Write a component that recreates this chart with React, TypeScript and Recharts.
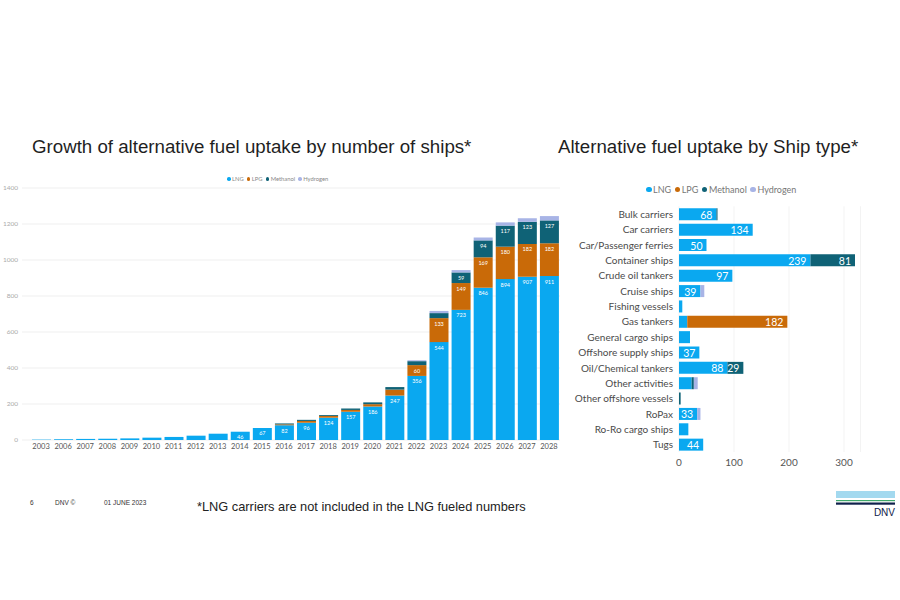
import React from 'react';
import { BarChart, Bar, XAxis, YAxis, CartesianGrid, LabelList } from 'recharts';

// Fleet growth by year (number of ships per fuel)
const years = ['2003', '2006', '2007', '2008', '2009', '2010', '2011', '2012', '2013', '2014', '2015', '2016',
  '2017', '2018', '2019', '2020', '2021', '2022', '2023', '2024', '2025', '2026', '2027', '2028'];
const lngByYear = [2, 4, 6, 7, 9, 13, 17, 24, 35, 46, 67, 82, 96, 124, 157, 186, 247, 356, 544, 723, 846, 894, 907, 911];
const lpgByYear = [0, 0, 0, 0, 0, 0, 0, 0, 0, 0, 0, 5, 10, 10, 10, 13, 33, 60, 133, 149, 169, 180, 182, 182];
const methanolByYear = [0, 0, 0, 0, 0, 0, 0, 0, 0, 0, 0, 5, 6, 5, 8, 10, 14, 22, 28, 59, 94, 117, 123, 127];
const hydrogenByYear = [0, 0, 0, 0, 0, 0, 0, 0, 0, 0, 0, 0, 0, 0, 0, 0, 0, 5, 12, 13, 16, 18, 20, 24];
const yearAxisTicks = [0, 200, 400, 600, 800, 1000, 1200, 1400];

// Uptake by ship type
const shipTypes = ['Bulk carriers', 'Car carriers', 'Car/Passenger ferries', 'Container ships', 'Crude oil tankers',
  'Cruise ships', 'Fishing vessels', 'Gas tankers', 'General cargo ships', 'Offshore supply ships',
  'Oil/Chemical tankers', 'Other activities', 'Other offshore vessels', 'RoPax', 'Ro-Ro cargo ships', 'Tugs'];
const lngByType = [68, 134, 50, 239, 97, 39, 6, 15, 20, 37, 88, 23, 0, 33, 17, 44];
const lpgByType = [0, 0, 0, 0, 0, 0, 0, 182, 0, 0, 0, 0, 0, 0, 0, 0];
const methanolByType = [2, 0, 0, 81, 0, 0, 0, 0, 0, 0, 29, 4, 3, 0, 0, 0];
const hydrogenByType = [0, 0, 0, 0, 0, 7, 0, 0, 0, 0, 0, 7, 0, 6, 0, 0];
const typeAxisTicks = [0, 100, 200, 300];

const fuels = ['LNG', 'LPG', 'Methanol', 'Hydrogen'];
const fuelColors = ['#0aa8f0', '#c96a08', '#0f6276', '#a8b4e6'];

const yearRows = years.map((year, i) => ({
  year,
  LNG: lngByYear[i],
  LPG: lpgByYear[i],
  Methanol: methanolByYear[i],
  Hydrogen: hydrogenByYear[i],
}));

const typeRows = shipTypes.map((type, i) => ({
  type,
  LNG: lngByType[i],
  LPG: lpgByType[i],
  Methanol: methanolByType[i],
  Hydrogen: hydrogenByType[i],
}));

const uiFont = 'Lato, "Noto Sans", sans-serif';
const titleFont = '"Liberation Sans", Arial, sans-serif';

function FuelLegend({ left, top, fontSize, gap, color }: { left: number; top: number; fontSize: number; gap: number; color: string }) {
  return (
    <div style={{ position: 'absolute', left, top, display: 'flex', alignItems: 'center', fontFamily: uiFont, fontSize, lineHeight: 1, color, whiteSpace: 'nowrap' }}>
      {fuels.map((f, i) => (
        <span key={f} style={{ display: 'inline-flex', alignItems: 'center', marginRight: gap }}>
          <span style={{ width: fontSize * 0.62, height: fontSize * 0.62, borderRadius: '50%', background: fuelColors[i], marginRight: 1.5, display: 'inline-block' }} />
          {f}
        </span>
      ))}
    </div>
  );
}

// Value labels near the top of each stacked column segment
const columnLabel = (min: number) => (props: any) => {
  const { x, y, width, value } = props;
  if (value == null || value < min) return null;
  return (
    <text x={x + width / 2} y={y + 5.5} fill="#ffffff" fontSize={5.5} fontFamily={uiFont} textAnchor="middle" dominantBaseline="central">
      {value}
    </text>
  );
};

// Value labels at the right end of each horizontal bar segment
const barLabel = (min: number) => (props: any) => {
  const { x, y, width, height, value } = props;
  if (value == null || value < min) return null;
  return (
    <text x={x + width - 4} y={y + height / 2 + 0.5} fill="#ffffff" fontSize={10.5} fontFamily={uiFont} textAnchor="end" dominantBaseline="central">
      {value}
    </text>
  );
};

// Single-line ship type labels
const TypeTick = (props: any) => {
  const { x, y, payload } = props;
  return (
    <text x={x} y={y} textAnchor="end" dominantBaseline="central" fontSize={10} fontWeight={400} fill="#4a4a4a" fontFamily={uiFont}>
      {payload.value}
    </text>
  );
};

export default function App() {
  return (
    <div style={{ position: 'absolute', left: 0, top: 0, width: 900, height: 600, background: '#ffffff', overflow: 'hidden' }}>
      <div style={{ position: 'absolute', left: 32, top: 137, fontFamily: titleFont, fontSize: 18.7, lineHeight: '20px', color: '#1f1f1f', whiteSpace: 'nowrap' }}>
        Growth of alternative fuel uptake by number of ships*
      </div>
      <div style={{ position: 'absolute', left: 558, top: 137, fontFamily: titleFont, fontSize: 18.7, lineHeight: '20px', color: '#1f1f1f', whiteSpace: 'nowrap' }}>
        Alternative fuel uptake by Ship type*
      </div>

      <FuelLegend left={227} top={176} fontSize={5.8} gap={3} color="#888" />
      <div style={{ position: 'absolute', left: 0, top: 170 }}>
        <BarChart width={565} height={290} data={yearRows} margin={{ top: 18, right: 5, bottom: 0, left: 0 }} barSize={19}>
          <CartesianGrid vertical={false} stroke="#efefef" />
          <XAxis dataKey="year" height={20} padding={{ left: 8, right: 0 }} tickLine={false} axisLine={false} tickSize={0} tickMargin={4}
            interval={0} tick={{ fontSize: 7.5, fill: '#555', fontFamily: uiFont }} />
          <YAxis width={22} domain={[0, 1400]} ticks={yearAxisTicks} tickLine={false} axisLine={false} tickSize={0} tickMargin={4}
            tick={{ fontSize: 6.5, fill: '#aaa', fontFamily: uiFont }} />
          {fuels.map((f, i) => (
            <Bar key={f} dataKey={f} stackId="fuel" fill={fuelColors[i]} isAnimationActive={false}>
              {i < 3 && <LabelList dataKey={f} content={columnLabel(40)} />}
            </Bar>
          ))}
        </BarChart>
      </div>

      <FuelLegend left={646} top={185} fontSize={9} gap={3.5} color="#777" />
      <div style={{ position: 'absolute', left: 560, top: 200 }}>
        <BarChart layout="vertical" width={310} height={272} data={typeRows} margin={{ top: 6.3, right: 9.5, bottom: 0, left: 0 }} barSize={12}>
          <CartesianGrid horizontal={false} stroke="#f3f3f3" />
          <XAxis type="number" domain={[0, 330]} ticks={typeAxisTicks} height={20} tickLine={false} axisLine={false} tickSize={0} tickMargin={7}
            tick={{ fontSize: 10, fill: '#555', fontFamily: uiFont }} />
          <YAxis type="category" dataKey="type" width={119} interval={0} tickLine={false} axisLine={false} tickSize={0} tickMargin={6}
            tick={<TypeTick />} />
          {fuels.map((f, i) => (
            <Bar key={f} dataKey={f} stackId="fuel" fill={fuelColors[i]} isAnimationActive={false}>
              {i === 0 && <LabelList dataKey={f} content={barLabel(30)} />}
              {i === 1 && <LabelList dataKey={f} content={barLabel(30)} />}
              {i === 2 && <LabelList dataKey={f} content={barLabel(10)} />}
            </Bar>
          ))}
        </BarChart>
      </div>

      <div style={{ position: 'absolute', left: 30, top: 499, fontFamily: titleFont, fontSize: 6.5, color: '#333', whiteSpace: 'nowrap' }}>6</div>
      <div style={{ position: 'absolute', left: 55, top: 499, fontFamily: titleFont, fontSize: 6.5, color: '#333', whiteSpace: 'nowrap' }}>DNV ©</div>
      <div style={{ position: 'absolute', left: 104, top: 499, fontFamily: titleFont, fontSize: 6.5, color: '#333', whiteSpace: 'nowrap' }}>01 JUNE 2023</div>
      <div style={{ position: 'absolute', left: 197, top: 499, fontFamily: titleFont, fontSize: 12.8, lineHeight: '16px', color: '#222', whiteSpace: 'nowrap' }}>
        *LNG carriers are not included in the LNG fueled numbers
      </div>

      <svg style={{ position: 'absolute', left: 830, top: 486 }} width={70} height={34}>
        <rect x={6} y={5} width={59} height={7} fill="#a3d9ef" />
        <rect x={6} y={14} width={59} height={1.2} fill="#3ea86a" />
        <rect x={6} y={16.5} width={59} height={2.2} fill="#0f204b" />
        <text x={65} y={30} textAnchor="end" fontFamily={titleFont} fontSize={10} fill="#0f204b">DNV</text>
      </svg>
    </div>
  );
}
